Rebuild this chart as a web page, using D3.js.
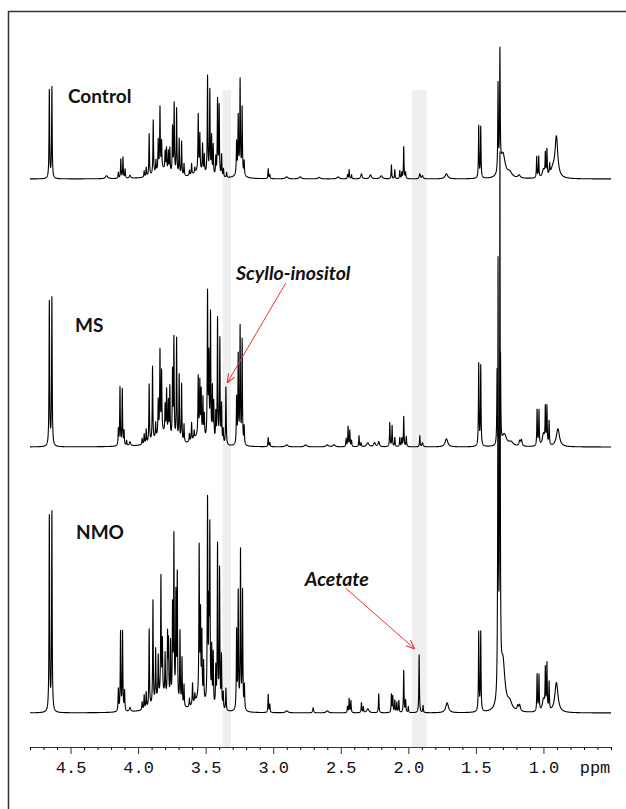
<!DOCTYPE html>
<html>
<head>
<meta charset="utf-8">
<script src="https://cdn.jsdelivr.net/npm/d3@7"></script>
<style>
  body { margin: 0; background: #fff; }
  .lbl { font-family: Lato, "Open Sans", sans-serif; }
  .mono { font-family: "Liberation Mono", "DejaVu Sans Mono", monospace; }
</style>
</head>
<body>
<svg id="chart" width="626" height="809"></svg>
<script>
// peak lists: [ppm, height, half-width in ppm (optional)]
const controlPeaks = [
  [4.657, 88], [4.638, 91], [4.233, 3, 0.01],
  [4.146, 6], [4.128, 19], [4.112, 21], [4.096, 9], [4.06, 3, 0.006],
  [3.955, 6], [3.94, 9], [3.918, 42], [3.888, 54], [3.868, 12], [3.851, 30], [3.838, 62], [3.826, 27],
  [3.80, 18], [3.79, 22], [3.776, 20], [3.765, 24],
  [3.745, 46], [3.733, 70], [3.715, 66], [3.696, 36], [3.678, 34], [3.66, 12],
  [3.62, 5], [3.604, 11], [3.58, 5],
  [3.555, 56], [3.543, 36], [3.523, 28], [3.51, 18],
  [3.486, 98], [3.469, 84], [3.456, 38], [3.444, 30],
  [3.425, 18], [3.412, 76], [3.40, 70], [3.382, 22], [3.368, 8], [3.345, 5],
  [3.271, 32], [3.259, 56], [3.245, 92], [3.23, 66], [3.215, 14],
  [3.82, 9, 0.06], [3.55, 7, 0.05], [3.25, 5, 0.03],
  [3.037, 10], [3.025, 4],
  [2.90, 2, 0.01], [2.80, 2, 0.01], [2.66, 1.5, 0.01], [2.52, 2, 0.01],
  [2.45, 4], [2.438, 9], [2.42, 4], [2.347, 5, 0.006], [2.28, 4, 0.008], [2.20, 3, 0.01],
  [2.125, 14], [2.10, 9], [2.063, 8], [2.048, 6], [2.034, 32], [2.02, 6],
  [1.915, 5, 0.005], [1.895, 3, 0.005], [1.718, 5, 0.012],
  [1.479, 52], [1.464, 51],
  [1.336, 88], [1.322, 118], [1.30, 24, 0.02], [1.25, 5, 0.02], [1.18, 3, 0.01],
  [1.05, 21], [1.035, 21], [1.0, 8, 0.01],
  [0.986, 22], [0.974, 26], [0.954, 10],
  [0.904, 40, 0.012], [0.93, 8, 0.02]
];

const msPeaks = [
  [4.657, 144], [4.638, 148],
  [4.146, 16], [4.134, 58], [4.117, 56], [4.104, 14], [4.085, 5], [4.06, 4, 0.006],
  [3.97, 6], [3.955, 10], [3.94, 14], [3.918, 58], [3.893, 74], [3.87, 15], [3.851, 34], [3.838, 82], [3.826, 60],
  [3.80, 28], [3.789, 44], [3.776, 34], [3.765, 50],
  [3.745, 66], [3.735, 100], [3.715, 102], [3.696, 66], [3.678, 58], [3.66, 18],
  [3.62, 8], [3.604, 18], [3.585, 8],
  [3.555, 58], [3.543, 52], [3.533, 44], [3.52, 38], [3.51, 22],
  [3.486, 146], [3.476, 80], [3.464, 126], [3.45, 52], [3.44, 38],
  [3.425, 28], [3.412, 124], [3.395, 104], [3.382, 38], [3.37, 14], [3.35, 58],
  [3.271, 46], [3.259, 88], [3.245, 116], [3.23, 104], [3.215, 18],
  [3.82, 13, 0.06], [3.55, 10, 0.05],
  [3.037, 9], [3.025, 4],
  [2.90, 2, 0.01], [2.76, 2, 0.01], [2.60, 2, 0.01], [2.55, 2, 0.01],
  [2.46, 8], [2.446, 20], [2.433, 16], [2.42, 6], [2.365, 11], [2.35, 4], [2.30, 4, 0.01], [2.25, 4, 0.008], [2.219, 5, 0.006],
  [2.137, 24], [2.12, 21], [2.10, 9], [2.063, 9], [2.048, 8], [2.034, 30], [2.015, 10],
  [1.915, 11], [1.895, 4, 0.005], [1.718, 8, 0.012],
  [1.479, 82], [1.464, 80],
  [1.343, 76], [1.318, 90], [1.29, 12, 0.02], [1.24, 4, 0.02],
  [1.176, 5, 0.006], [1.163, 6, 0.006],
  [1.047, 36], [1.033, 35], [1.0, 12, 0.01],
  [0.986, 36], [0.974, 38], [0.958, 24],
  [0.893, 18, 0.014]
];

const nmoPeaks = [
  [4.657, 195], [4.638, 199],
  [4.146, 22], [4.13, 79], [4.115, 79], [4.10, 20], [4.06, 4, 0.006],
  [3.97, 8], [3.955, 14], [3.94, 16], [3.918, 78], [3.89, 104], [3.87, 52], [3.851, 42], [3.831, 118], [3.82, 52],
  [3.80, 42], [3.782, 62], [3.775, 55], [3.76, 58],
  [3.745, 92], [3.735, 164], [3.72, 106], [3.71, 128], [3.69, 74], [3.675, 48], [3.66, 22],
  [3.62, 8], [3.597, 21], [3.58, 8],
  [3.548, 150], [3.538, 82], [3.528, 64], [3.515, 38],
  [3.486, 202], [3.476, 84], [3.469, 172], [3.455, 56], [3.444, 52],
  [3.425, 38], [3.412, 162], [3.397, 138], [3.383, 52], [3.37, 16], [3.35, 22],
  [3.271, 78], [3.259, 116], [3.242, 158], [3.227, 118], [3.213, 24],
  [3.82, 16, 0.06], [3.55, 12, 0.05],
  [3.037, 18], [3.025, 8],
  [2.90, 2, 0.01], [2.704, 5, 0.004], [2.60, 2, 0.01],
  [2.45, 6], [2.438, 14], [2.425, 12], [2.347, 10], [2.333, 6], [2.30, 4, 0.01], [2.219, 19],
  [2.125, 18], [2.115, 16], [2.10, 12], [2.085, 10], [2.07, 12], [2.034, 42], [2.02, 12], [2.00, 6],
  [1.92, 58], [1.891, 7], [1.713, 10, 0.012],
  [1.479, 79], [1.464, 79],
  [1.336, 430], [1.322, 528], [1.30, 48, 0.018], [1.25, 8, 0.02],
  [1.19, 5, 0.006], [1.176, 6, 0.006],
  [1.047, 37], [1.033, 36], [1.0, 12, 0.01],
  [0.986, 40], [0.974, 46], [0.958, 28],
  [0.904, 30, 0.014]
];

const traceNames = ["Control", "MS", "NMO"];
const tracePeaks = [controlPeaks, msPeaks, nmoPeaks];
const majorTicks = [4.5, 4.0, 3.5, 3.0, 2.5, 2.0, 1.5, 1.0];
const minorTicks = [4.8, 4.7, 4.6, 4.4, 4.3, 4.2, 4.1, 3.9, 3.8, 3.7, 3.6, 3.4, 3.3, 3.2, 3.1,
  2.9, 2.8, 2.7, 2.6, 2.4, 2.3, 2.2, 2.1, 1.9, 1.8, 1.7, 1.6, 1.4, 1.3, 1.2, 1.1, 0.9, 0.8, 0.7, 0.6, 0.5];
const bands = [[3.375, 3.313], [1.975, 1.865]];
// annotations: label, [ppm, intensity] of text, arrow tail, arrow tip, trace index
const notes = [
  { label: "Scyllo-inositol", text: [3.276, 167], from: [2.907, 164], to: [3.341, 64], trace: 1 },
  { label: "Acetate", text: [2.766, 127], from: [2.465, 125], to: [1.952, 64], trace: 2 }
];

const W = 626, H = 809;
const baselines = [179, 447, 713];
const labelPos = [[68, 103], [75, 332], [76, 539]];
const axisY = 747;
const defaultHW = 0.0025;

const svg = d3.select("#chart");

const x = d3.scaleLinear().domain([4.8, 0.5]).range([30, 611]);
const yFor = i => d3.scaleLinear().domain([0, 600]).range([baselines[i], baselines[i] - 600]);

// frame (only top and left edges fall inside the picture)
svg.append("path")
  .attr("d", `M8.5,${H + 5}V11.5H${W + 5}`)
  .attr("fill", "none")
  .attr("stroke", "#333")
  .attr("stroke-width", 1.5);

// grey bands
svg.selectAll("rect.band").data(bands).enter().append("rect")
  .attr("class", "band")
  .attr("x", d => x(d[0]))
  .attr("width", d => x(d[1]) - x(d[0]))
  .attr("y", 90)
  .attr("height", axisY - 90)
  .attr("fill", "#eef0ef");

// spectrum: sum of Lorentzian lines for each peak
const grid = d3.range(4.8, 0.4995, -0.0005);
function spectrum(peaks) {
  return grid.map(p => {
    let s = 0;
    for (const [c, h, hw] of peaks) {
      const g = hw || defaultHW;
      const dd = p - c;
      s += h * g * g / (dd * dd + g * g);
    }
    return [p, s];
  });
}

tracePeaks.forEach((peaks, i) => {
  const y = yFor(i);
  const line = d3.line().x(d => x(d[0])).y(d => y(d[1]));
  svg.append("path")
    .datum(spectrum(peaks))
    .attr("d", line)
    .attr("fill", "none")
    .attr("stroke", "#000")
    .attr("stroke-width", 1.1)
    .attr("stroke-linejoin", "round");
});

// trace names
svg.selectAll("text.name").data(traceNames).enter().append("text")
  .attr("class", "name lbl")
  .attr("x", (d, i) => labelPos[i][0])
  .attr("y", (d, i) => labelPos[i][1])
  .attr("font-size", 19)
  .attr("font-weight", "bold")
  .attr("fill", "#111")
  .text(d => d);

// annotations with red arrows
svg.append("defs").append("marker")
  .attr("id", "head")
  .attr("viewBox", "0 0 10 10")
  .attr("refX", 10).attr("refY", 5)
  .attr("markerWidth", 9).attr("markerHeight", 9)
  .attr("markerUnits", "userSpaceOnUse")
  .attr("orient", "auto")
  .append("path")
  .attr("d", "M0,1L10,5L0,9")
  .attr("fill", "none")
  .attr("stroke", "#e8353b")
  .attr("stroke-width", 1.2);

notes.forEach(n => {
  const y = yFor(n.trace);
  svg.append("text")
    .attr("class", "lbl")
    .attr("x", x(n.text[0]))
    .attr("y", y(n.text[1]))
    .attr("font-size", 19.5)
    .attr("font-weight", "bold")
    .attr("font-style", "italic")
    .attr("fill", "#111")
    .text(n.label);
  svg.append("line")
    .attr("x1", x(n.from[0])).attr("y1", y(n.from[1]))
    .attr("x2", x(n.to[0])).attr("y2", y(n.to[1]))
    .attr("stroke", "#e8353b")
    .attr("stroke-width", 1)
    .attr("marker-end", "url(#head)");
});

// ppm axis
const axisG = svg.append("g").attr("transform", `translate(0,${axisY})`);
axisG.append("g")
  .call(d3.axisBottom(x).tickValues(minorTicks).tickSize(3).tickSizeOuter(0).tickFormat(""))
  .call(g => g.select(".domain").attr("stroke", "#333"));
axisG.append("g")
  .call(d3.axisBottom(x).tickValues(majorTicks).tickSize(7).tickSizeOuter(0).tickFormat(d3.format(".1f")))
  .call(g => g.select(".domain").attr("stroke", "#333"))
  .call(g => g.selectAll(".tick line").attr("stroke", "#333"))
  .call(g => g.selectAll(".tick text")
    .attr("class", "mono")
    .attr("y", 26).attr("dy", 0)
    .attr("font-size", 17)
    .attr("fill", "#111"));
axisG.append("text")
  .attr("class", "mono")
  .attr("x", 595).attr("y", 26)
  .attr("text-anchor", "middle")
  .attr("font-size", 17)
  .attr("fill", "#111")
  .text("ppm");
</script>
</body>
</html>
